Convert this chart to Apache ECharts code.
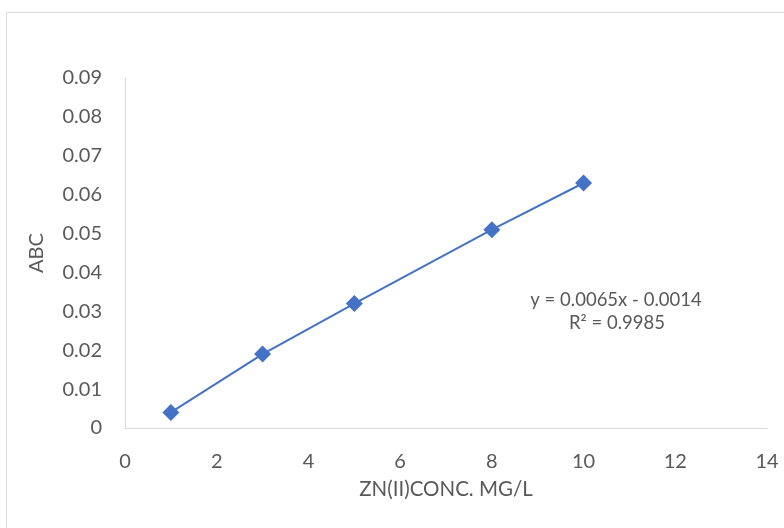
<!DOCTYPE html>
<html>
<head>
<meta charset="utf-8">
<style>
  html, body { margin: 0; padding: 0; background: #fff; }
  #chart { width: 784px; height: 528px; }
</style>
<script src="https://cdn.jsdelivr.net/npm/echarts@6/dist/echarts.min.js"></script>
</head>
<body>
<div id="chart"></div>
<script>
// Calibration data: Zn(II) concentration (mg/L) vs absorbance
const concentration = [1, 3, 5, 8, 10];
const absorbance = [0.004, 0.019, 0.032, 0.051, 0.063];
const yTicks = [0, 0.01, 0.02, 0.03, 0.04, 0.05, 0.06, 0.07, 0.08, 0.09];
const trendEquation = 'y = 0.0065x - 0.0014';
const trendR2 = 'R² = 0.9985';

const FONT = 'Lato, "Open Sans", sans-serif';
const TEXT = '#595959';
const AXIS = '#d9d9d9';
const BLUE = '#4472C4';

const chart = echarts.init(document.getElementById('chart'), null, { renderer: 'canvas' });

chart.setOption({
  animation: false,
  backgroundColor: '#fff',
  grid: { left: 125, right: 17, top: 78, bottom: 100 },
  xAxis: {
    type: 'value',
    min: 0, max: 14, interval: 2,
    name: 'ZN(II)CONC. MG/L',
    nameLocation: 'middle',
    nameGap: 51,
    nameTextStyle: { color: TEXT, fontFamily: FONT, fontSize: 20.5 },
    axisLine: { show: true, lineStyle: { color: AXIS, width: 1 } },
    axisTick: { show: false },
    splitLine: { show: false },
    axisLabel: { color: TEXT, fontFamily: FONT, fontSize: 20, margin: 24 }
  },
  yAxis: {
    type: 'value',
    min: yTicks[0], max: yTicks[yTicks.length - 1], interval: 0.01,
    name: 'ABC',
    nameLocation: 'middle',
    nameGap: 78,
    nameTextStyle: { color: TEXT, fontFamily: FONT, fontSize: 20 },
    axisLine: { show: true, lineStyle: { color: AXIS, width: 1 } },
    axisTick: { show: false },
    splitLine: { show: false },
    axisLabel: {
      color: TEXT, fontFamily: FONT, fontSize: 20, margin: 23,
      formatter: v => (Math.abs(v) < 1e-9 ? '0' : (+v.toFixed(2)).toString())
    }
  },
  series: [{
    type: 'line',
    data: concentration.map((x, i) => [x, absorbance[i]]),
    symbol: 'diamond',
    symbolSize: 17,
    itemStyle: { color: BLUE },
    lineStyle: { color: BLUE, width: 2 },
    z: 3
  }],
  graphic: [
    {
      type: 'rect',
      shape: { x: 6.5, y: 12.5, width: 800, height: 540 },
      style: { fill: 'none', stroke: AXIS, lineWidth: 1 },
      silent: true
    },
    {
      type: 'text',
      x: 616, y: 300,
      style: { text: trendEquation, fill: TEXT, font: '18.5px ' + FONT, align: 'center', verticalAlign: 'middle' }
    },
    {
      type: 'text',
      x: 617, y: 323,
      style: { text: trendR2, fill: TEXT, font: '18.5px ' + FONT, align: 'center', verticalAlign: 'middle' }
    }
  ]
});
</script>
</body>
</html>
